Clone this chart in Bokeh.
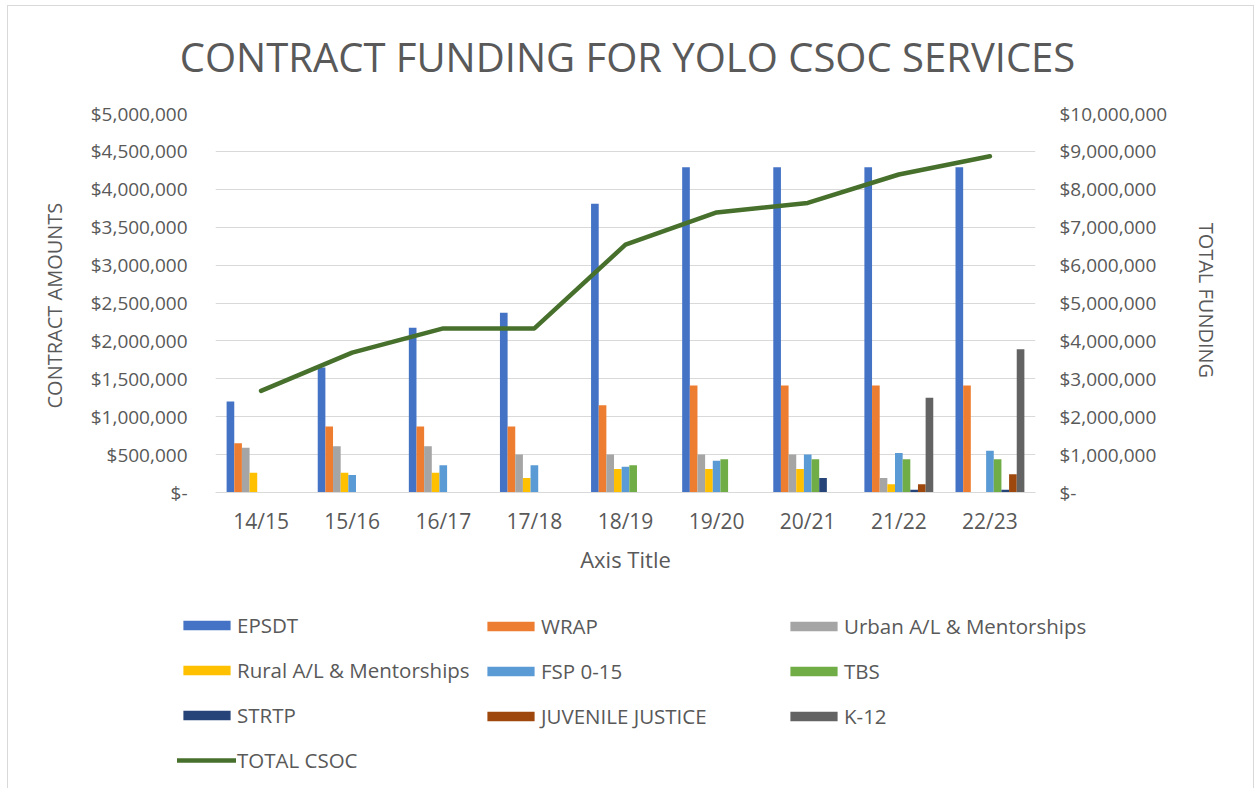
from bokeh.plotting import figure
from bokeh.models import (FactorRange, Range1d, LinearAxis, FixedTicker, Label,
                          CustomJSTickFormatter, Legend, LegendItem, ColumnDataSource)
from bokeh.transform import dodge
from bokeh.embed import file_html
from bokeh.resources import INLINE

years = ["14/15", "15/16", "16/17", "17/18", "18/19", "19/20", "20/21", "21/22", "22/23"]
epsdt = [1200000, 1650000, 2175000, 2370000, 3810000, 4290000, 4290000, 4290000, 4290000]
wrap = [650000, 870000, 870000, 870000, 1150000, 1410000, 1410000, 1410000, 1410000]
urban = [590000, 610000, 610000, 500000, 500000, 500000, 500000, 190000, 0]
rural = [260000, 260000, 260000, 190000, 310000, 310000, 310000, 110000, 0]
fsp = [0, 230000, 360000, 360000, 340000, 420000, 500000, 520000, 550000]
tbs = [0, 0, 0, 0, 360000, 440000, 440000, 440000, 440000]
strtp = [0, 0, 0, 0, 0, 0, 190000, 35000, 35000]
juvenile = [0, 0, 0, 0, 0, 0, 0, 110000, 240000]
k12 = [0, 0, 0, 0, 0, 0, 0, 1250000, 1890000]
total_csoc = [2680000, 3690000, 4330000, 4330000, 6540000, 7390000, 7640000, 8390000, 8870000]

series_names = ["EPSDT", "WRAP", "Urban A/L & Mentorships", "Rural A/L & Mentorships",
                "FSP 0-15", "TBS", "STRTP", "JUVENILE JUSTICE", "K-12"]
series_values = [epsdt, wrap, urban, rural, fsp, tbs, strtp, juvenile, k12]
series_colors = ["#4472C4", "#ED7D31", "#A5A5A5", "#FFC000", "#5B9BD5",
                 "#70AD47", "#264478", "#9E480E", "#636363"]
line_name = "TOTAL CSOC"
line_color = "#47702C"
title_text = "CONTRACT FUNDING FOR YOLO CSOC SERVICES"

left_ticks = [0, 500000, 1000000, 1500000, 2000000, 2500000, 3000000,
              3500000, 4000000, 4500000, 5000000]
right_ticks = [0, 1000000, 2000000, 3000000, 4000000, 5000000, 6000000,
               7000000, 8000000, 9000000, 10000000]

FONT = "Open Sans"
TXT = "#595959"
GRID = "#D9D9D9"
BORDER = "1px solid #D9D9D9"
W = 1247          # element width incl. 1px left/right border
CW = W - 2        # canvas width


def bare(fig):
    fig.outline_line_color = None
    fig.xgrid.grid_line_color = None
    fig.ygrid.grid_line_color = None
    fig.background_fill_color = "white"
    fig.border_fill_color = "white"


# ---------------- title strip ----------------
HT = 91
t = figure(width=W, height=HT, output_backend="svg", toolbar_location=None,
           x_axis_type=None, y_axis_type=None, x_range=Range1d(0, 1), y_range=Range1d(0, 1),
           min_border=0, min_border_left=0, min_border_right=0,
           min_border_top=0, min_border_bottom=0)
bare(t)
t.styles = {"position": "absolute", "left": "7px", "top": "5px",
            "border-left": BORDER, "border-top": BORDER, "border-right": BORDER}
t.add_layout(Label(x=619, y=41, x_units="screen", y_units="screen",
                   text=title_text, text_align="center", text_baseline="alphabetic",
                   text_font=FONT, text_font_size="40px", text_color=TXT))

# ---------------- main chart ----------------
data = {"year": years, "total": total_csoc}
keys = []
for i, vals in enumerate(series_values):
    k = "s%d" % i
    keys.append(k)
    data[k] = vals
source = ColumnDataSource(data)

TOP_MAIN = 5 + HT
HM = 504
FL, FR, FT, FB = 207, 1025, 113 - TOP_MAIN, 492 - TOP_MAIN
p = figure(x_range=FactorRange(*years), y_range=Range1d(0, 5000000),
           width=W, height=HM, output_backend="svg", toolbar_location=None,
           min_border_left=FL, min_border_right=CW - FR,
           min_border_top=FT, min_border_bottom=HM - FB)
p.extra_y_ranges = {"total": Range1d(0, 10000000)}
bare(p)
p.styles = {"position": "absolute", "left": "7px", "top": "%dpx" % TOP_MAIN,
            "border-left": BORDER, "border-right": BORDER}

bw = 0.084
renderers = []
for i, k in enumerate(keys):
    off = (i - 4) * bw
    r = p.vbar(x=dodge("year", off, range=p.x_range), top=k, bottom=0, width=bw,
               source=source, fill_color=series_colors[i], line_color=None)
    renderers.append(r)

lr = p.line(x="year", y="total", source=source, y_range_name="total",
            line_color=line_color, line_width=4.5, line_cap="round")

fmt = CustomJSTickFormatter(code="""
    if (tick == 0) { return "$-"; }
    return "$" + Math.round(tick).toLocaleString("en-US");
""")

xa = p.xaxis[0]
xa.axis_line_color = GRID
xa.major_tick_line_color = None
xa.major_tick_out = 0
xa.major_tick_in = 0
xa.minor_tick_line_color = None
xa.major_label_text_font = FONT
xa.major_label_text_font_size = "21px"
xa.major_label_text_color = TXT
xa.major_label_standoff = 14
xa.axis_label = "Axis Title"
xa.axis_label_text_font = FONT
xa.axis_label_text_font_size = "22px"
xa.axis_label_text_font_style = "normal"
xa.axis_label_text_color = TXT
xa.axis_label_standoff = 6

ya = p.yaxis[0]
ya.ticker = FixedTicker(ticks=left_ticks)
ya.formatter = fmt
ya.axis_line_color = None
ya.major_tick_line_color = None
ya.major_tick_out = 0
ya.major_tick_in = 0
ya.minor_tick_line_color = None
ya.major_label_text_font = FONT
ya.major_label_text_font_size = "19px"
ya.major_label_text_color = TXT
ya.major_label_standoff = 28
ya.axis_label = "CONTRACT  AMOUNTS"
ya.axis_label_text_font = FONT
ya.axis_label_text_font_size = "20px"
ya.axis_label_text_font_style = "normal"
ya.axis_label_text_color = TXT
ya.axis_label_standoff = 20
p.ygrid.ticker = FixedTicker(ticks=left_ticks)
p.ygrid.grid_line_color = GRID
p.ygrid.grid_line_width = 1

ra = LinearAxis(y_range_name="total", ticker=FixedTicker(ticks=right_ticks), formatter=fmt)
ra.axis_line_color = None
ra.major_tick_line_color = None
ra.major_tick_out = 0
ra.major_tick_in = 0
ra.minor_tick_line_color = None
ra.major_label_text_font = FONT
ra.major_label_text_font_size = "19px"
ra.major_label_text_color = TXT
ra.major_label_standoff = 24
ra.axis_label = "TOTAL  FUNDING"
ra.axis_label_text_font = FONT
ra.axis_label_text_font_size = "20px"
ra.axis_label_text_font_style = "normal"
ra.axis_label_text_color = TXT
ra.axis_label_standoff = 23
p.add_layout(ra, "right")

# ---------------- legend strip ----------------
TOP_LEG = TOP_MAIN + HM
HL = 188
q = figure(width=W, height=HL, output_backend="svg", toolbar_location=None,
           x_axis_type=None, y_axis_type=None, x_range=Range1d(0, 1), y_range=Range1d(0, 1),
           min_border=0, min_border_left=0, min_border_right=0,
           min_border_top=0, min_border_bottom=0)
bare(q)
q.styles = {"position": "absolute", "left": "7px", "top": "%dpx" % TOP_LEG,
            "border-left": BORDER, "border-right": BORDER}

# legend keys: zero-size glyphs far outside the visible range, only their styles show
swatches = []
for i in range(9):
    swatches.append(q.vbar(x=[-50], top=[-50], bottom=[-50], width=0.01,
                           fill_color=series_colors[i], line_color=None))
line_swatch = q.line(x=[-50, -50], y=[-50, -50], line_color=line_color, line_width=4.5,
                     line_cap="round")

col_items = [
    [(series_names[0], swatches[0]), (series_names[3], swatches[3]),
     (series_names[6], swatches[6]), (line_name, line_swatch)],
    [(series_names[1], swatches[1]), (series_names[4], swatches[4]),
     (series_names[7], swatches[7])],
    [(series_names[2], swatches[2]), (series_names[5], swatches[5]),
     (series_names[8], swatches[8])],
]
col_x = [169, 473, 776]
ITEM_H, SP = 27, 17
top_off = 615 - TOP_LEG
for ci, its in enumerate(col_items):
    n = len(its)
    hgt = n * ITEM_H + (n - 1) * SP
    lg = Legend(items=[LegendItem(label=tx, renderers=[r]) for tx, r in its],
                location=(col_x[ci], HL - top_off - hgt), orientation="vertical",
                label_text_font=FONT, label_text_font_size="20.5px", label_text_color=TXT,
                glyph_width=59, glyph_height=12, label_height=ITEM_H, label_standoff=1,
                spacing=SP, padding=0, margin=0, border_line_color=None,
                background_fill_alpha=0)
    q.add_layout(lg, "center")

open("out.html", "w").write(file_html([t, p, q], INLINE))
